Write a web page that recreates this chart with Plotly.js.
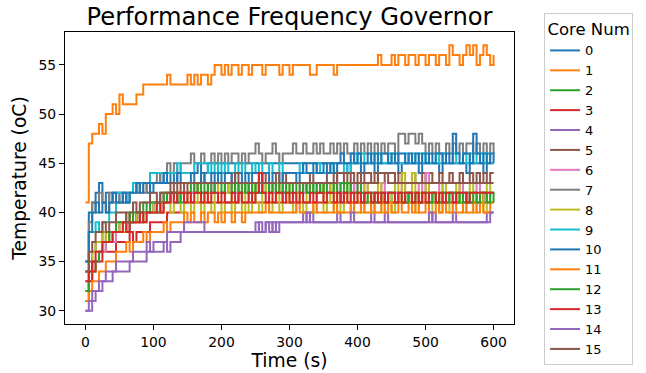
<!DOCTYPE html>
<html>
<head>
<meta charset="utf-8">
<script src="https://cdn.plot.ly/plotly-3.0.1.min.js"></script>
<style>html,body{margin:0;padding:0;background:#fff;}#chart{width:646px;height:373px;}</style>
</head>
<body>
<div id="chart"></div>
<script>
// sample times (s)
const timeS = [0,5,10,15,20,25,30,35,40,45,50,55,60,65,70,75,80,85,90,95,
100,105,110,115,120,125,130,135,140,145,150,155,160,165,170,175,180,185,190,195,
200,205,210,215,220,225,230,235,240,245,250,255,260,265,270,275,280,285,290,295,
300,305,310,315,320,325,330,335,340,345,350,355,360,365,370,375,380,385,390,395,
400,405,410,415,420,425,430,435,440,445,450,455,460,465,470,475,480,485,490,495,
500,505,510,515,520,525,530,535,540,545,550,555,560,565,570,575,580,585,590,595,600];

const coreNames = ["0","1","2","3","4","5","6","7","8","9","10","11","12","13","14","15"];

const core0 = [35,40,41,42,43,41,42,41,42,41, 42,41,42,42,43,42,43,43,42,43,
43,43,44,43,43,44,43,44,44,44, 44,44,44,45,44,44,45,45,45,45,
45,45,45,45,45,45,45,45,45,45, 45,45,45,45,45,45,45,45,45,45,
45,45,45,45,45,45,45,45,45,45, 45,45,45,45,45,45,45,44,45,45,
45,44,45,45,45,44,45,45,45,45, 45,45,44,45,45,45,45,45,44,45,
45,45,45,45,44,45,45,45,45,45, 45,45,44,45,45,45,45,44,45,45, 45];
const core1 = [41,47,48,48,49,48,50,50,51,50, 52,51,51,51,51,52,52,53,53,53,
53,53,53,53,54,53,53,53,53,53, 54,53,54,53,54,54,53,54,55,55,
54,55,54,55,55,54,55,55,54,55, 55,55,54,55,55,55,55,54,55,55,
54,55,55,55,55,55,54,54,55,55, 55,55,55,54,55,55,55,55,55,55,
55,55,55,55,55,55,56,55,55,55, 56,55,56,56,55,56,56,55,56,56,
55,56,56,55,56,56,55,57,56,56, 55,56,57,56,57,55,56,57,56,55, 56];
const core2 = [32,33,34,35,36,36,37,37,38,38, 38,38,39,39,39,40,39,40,40,40,
41,40,41,41,41,42,41,42,41,42, 42,42,43,42,42,43,42,42,43,42,
42,43,42,42,43,42,42,43,42,42, 43,42,42,43,42,43,42,42,43,42,
42,43,42,42,43,42,43,42,42,43, 42,42,43,42,42,41,42,42,43,42,
42,41,42,42,41,42,42,41,42,42, 41,42,42,41,42,41,42,42,41,42,
42,41,42,41,42,42,41,42,41,42, 41,42,41,42,42,41,42,41,42,42, 42];
const core3 = [31,33,34,35,35,36,36,36,36,37, 37,37,37,38,37,38,38,38,38,39,
39,39,39,39,40,40,40,40,40,41, 41,41,41,41,41,41,41,41,41,41,
41,41,41,41,41,42,41,41,41,41, 41,41,41,41,41,41,41,41,42,41,
41,41,41,41,41,41,41,41,41,41, 41,41,41,41,41,42,41,41,41,41,
41,41,41,41,41,41,41,41,41,41, 41,41,41,41,41,42,41,41,41,41,
41,41,41,41,41,41,41,41,41,41, 41,41,41,41,41,41,41,42,41,41, 41];
const core4 = [30,30,31,32,32,33,33,33,34,34, 34,34,34,35,35,35,35,35,36,36,
36,36,36,37,36,37,37,37,38,38, 38,38,38,38,38,38,38,38,38,38,
38,38,38,38,38,38,38,38,38,38, 39,38,38,39,38,39,38,39,39,39,
39,39,39,39,40,39,40,39,39,39, 39,39,39,39,40,39,39,39,39,39,
39,39,39,39,40,39,39,39,40,39, 39,39,39,39,39,39,39,39,39,39,
39,39,40,39,39,39,39,39,40,39, 39,39,39,39,39,39,39,39,40,40, 40];
const core5 = [34,35,36,37,37,38,37,38,38,38, 39,39,38,39,39,40,39,40,40,41,
41,40,41,42,41,42,42,42,43,42, 43,43,43,43,44,43,43,43,43,43,
43,43,43,44,43,43,43,43,43,43, 43,43,44,43,43,43,43,43,44,43,
43,43,43,43,43,43,44,43,43,43, 43,44,44,43,44,44,43,44,44,43,
44,43,44,44,43,44,43,43,44,43, 43,43,44,43,43,43,44,43,43,44,
43,44,43,43,44,43,43,44,43,43, 44,43,43,44,43,44,43,44,43,44, 44];
const core6 = [33,34,35,35,36,36,37,37,37,38, 38,38,39,39,39,39,40,40,40,40,
41,41,40,41,41,42,41,41,42,42, 42,42,42,43,42,42,42,43,42,42,
42,42,43,42,42,42,42,42,43,42, 42,43,42,42,42,42,43,42,42,42,
42,42,42,43,42,42,42,42,43,42, 42,42,42,42,43,42,42,42,42,43,
42,42,43,42,42,42,42,43,42,42, 42,42,42,43,42,42,42,42,43,42,
44,42,42,42,43,42,42,42,42,42, 43,42,42,42,42,43,42,42,42,42, 42];
const core7 = [34,39,41,40,42,41,40,42,41,42, 41,42,41,42,43,42,43,42,43,44,
44,43,44,44,45,44,45,44,45,45, 45,46,45,45,46,45,45,46,45,46,
45,46,45,46,46,45,46,45,46,46, 47,46,45,46,46,47,46,45,46,46,
46,47,46,46,47,46,46,47,46,47, 46,46,47,46,47,46,47,46,46,47,
46,47,46,47,46,47,46,47,46,47, 47,46,48,48,47,48,48,47,48,47,
46,47,46,47,46,46,47,46,47,46, 47,46,47,47,46,47,46,47,46,47, 46];
const core8 = [32,34,36,37,37,38,37,38,38,38, 39,38,39,40,39,40,40,39,40,41,
40,41,40,41,42,40,41,42,40,41, 42,40,41,43,40,42,41,40,43,41,
40,42,43,40,41,43,40,42,40,43, 41,40,43,42,40,41,43,40,42,41,
43,40,42,41,40,43,41,40,42,43, 40,41,43,40,42,40,41,43,40,42,
41,40,43,41,40,42,43,40,41,42, 40,43,41,44,42,41,44,40,42,41,
43,40,41,42,40,43,41,40,42,43, 41,40,42,43,40,41,42,40,43,41, 41];
const core9 = [35,38,38,39,38,39,39,40,40,42, 42,42,41,42,43,43,43,43,43,44,
44,44,44,44,44,44,44,45,44,44, 44,44,45,45,45,45,44,45,44,45,
44,45,44,44,45,44,45,44,44,45, 44,45,44,44,45,44,44,45,44,44,
44,44,44,45,44,44,44,44,45,44, 44,44,45,44,44,44,45,44,45,46,
45,46,45,45,46,45,46,45,45,46, 45,46,45,45,46,45,46,45,46,45,
46,45,45,46,45,46,45,45,46,45, 45,46,45,46,45,46,46,45,46,45, 45];
const core10 = [35,38,40,41,40,41,40,41,42,41, 41,42,41,42,42,43,42,43,43,42,
43,43,43,44,43,43,43,44,43,43, 43,44,43,43,44,43,43,44,43,44,
43,44,44,43,44,44,43,44,43,44, 44,43,44,44,43,44,44,43,44,44,
44,44,43,44,45,44,44,45,44,44, 45,44,45,44,45,46,45,45,46,45,
46,45,45,46,45,46,45,46,46,45, 46,45,46,46,45,46,45,46,45,46,
45,46,45,46,46,45,46,45,48,46, 45,46,46,45,48,46,45,46,45,46, 45];
const core11 = [31,32,33,33,34,34,35,35,35,36, 36,36,37,36,37,37,37,38,37,38,
38,38,38,39,38,39,39,39,39,40, 39,40,39,39,40,39,40,40,39,40,
39,40,40,39,40,40,39,40,40,40, 40,40,40,41,40,40,40,40,40,40,
40,40,41,40,40,40,40,41,40,40, 40,40,40,41,40,40,40,40,41,40,
40,41,40,40,41,40,40,41,40,41, 40,40,41,40,40,41,40,41,40,40,
41,40,40,41,40,41,40,40,41,40, 40,41,40,40,41,40,41,40,40,41, 41];
const core12 = [32,34,35,35,36,37,37,38,38,39, 39,39,40,39,40,40,40,41,40,41,
41,41,42,41,42,42,42,41,42,42, 42,43,42,43,42,42,43,42,43,43,
42,43,43,42,43,42,43,42,43,42, 43,42,43,43,42,43,42,43,42,43,
42,43,43,42,43,42,43,42,43,42, 43,42,42,43,42,43,42,43,42,42,
43,42,41,42,42,41,42,42,41,42, 42,41,42,42,41,42,41,42,41,42,
42,41,42,41,41,42,41,42,42,41, 42,41,42,41,42,41,42,42,41,42, 41];
const core13 = [33,34,35,36,36,37,37,37,38,38, 38,39,38,39,39,39,40,39,40,40,
40,41,40,41,41,42,41,42,42,41, 42,41,42,42,41,42,41,42,42,41,
42,41,41,42,41,42,41,41,42,41, 42,44,42,41,42,41,42,42,41,42,
41,42,41,42,41,41,42,41,42,42, 41,42,42,41,42,41,42,41,42,41,
42,41,42,42,41,42,41,42,41,42, 42,41,42,41,42,42,41,42,41,42,
41,42,42,41,42,41,42,42,41,42, 42,42,41,42,42,42,42,42,42,42, 42];
const core14 = [30,31,32,32,33,33,34,34,34,35, 35,35,35,35,36,36,36,36,37,36,
37,37,37,37,38,38,38,38,38,39, 39,39,39,39,39,38,38,38,38,38,
38,38,38,38,38,38,38,38,38,38, 38,39,38,39,39,38,39,39,39,39,
39,39,39,39,39,40,39,39,39,39, 39,39,39,39,39,39,39,39,40,39,
39,39,39,39,39,39,39,39,39,39, 39,39,39,39,39,39,39,39,39,39,
39,40,39,39,39,39,39,39,39,39, 39,39,39,39,39,39,39,39,39,40, 40];
const core15 = [34,36,37,38,38,39,38,39,39,40, 40,40,39,40,41,40,41,41,41,42,
42,41,42,42,42,43,42,43,43,43, 43,43,43,43,43,43,43,43,43,43,
43,43,43,43,44,43,43,43,43,43, 43,43,43,43,43,43,44,43,43,43,
43,43,43,43,43,43,43,43,43,43, 43,43,43,43,44,44,44,44,43,43,
43,43,43,43,43,43,44,44,44,44, 44,43,43,43,43,43,43,43,43,43,
43,43,43,43,43,43,43,43,43,43, 43,43,43,43,43,43,43,43,43,43, 43];

const coreData = [core0,core1,core2,core3,core4,core5,core6,core7,core8,core9,core10,core11,core12,core13,core14,core15];
const palette = ["#1f77b4","#ff7f0e","#2ca02c","#d62728","#9467bd","#8c564b","#e377c2","#7f7f7f","#bcbd22","#17becf"];

const traces = coreData.map((ys, i) => ({
  x: timeS, y: ys, type: "scatter", mode: "lines", name: coreNames[i],
  line: {color: palette[i % 10], width: 2, shape: "hv"}
}));

const axisCommon = {
  showline: true, mirror: true, linecolor: "#000", linewidth: 1,
  ticks: "outside", ticklen: 5, tickwidth: 1, tickcolor: "#000",
  showgrid: false, zeroline: false,
  tickfont: {family: "DejaVu Sans", size: 13.9, color: "#000"}
};

const layout = {
  width: 646, height: 373,
  paper_bgcolor: "#fff", plot_bgcolor: "#fff",
  margin: {l: 65, r: 132, t: 32, b: 49},
  font: {family: "DejaVu Sans", color: "#000"},
  title: {text: "Performance Frequency Governor", font: {family: "DejaVu Sans", size: 24.2, color: "#000"},
          x: 0.5, xref: "paper", xanchor: "center", y: 0.955, yref: "container", yanchor: "middle"},
  xaxis: Object.assign({}, axisCommon, {range: [-30, 630], tickvals: [0,100,200,300,400,500,600],
          title: {text: "Time (s)", font: {family: "DejaVu Sans", size: 18.7, color: "#000"}, standoff: 3}}),
  yaxis: Object.assign({}, axisCommon, {range: [28.65, 58.35], tickvals: [30,35,40,45,50,55],
          title: {text: "Temperature (oC)", font: {family: "DejaVu Sans", size: 18.7, color: "#000"}, standoff: 6}}),
  legend: {
    x: 1.067, y: 1.065, xanchor: "left", yanchor: "top",
    bgcolor: "#fff", bordercolor: "#cccccc", borderwidth: 1,
    font: {family: "DejaVu Sans", size: 13, color: "#000"},
    title: {text: "Core Num", side: "top center", font: {family: "DejaVu Sans", size: 16.5, color: "#000"}},
    tracegroupgap: 0, itemwidth: 30, maxheight: 365
  },
  showlegend: true
};

Plotly.newPlot("chart", traces, layout, {staticPlot: true, displayModeBar: false});
</script>
</body>
</html>
